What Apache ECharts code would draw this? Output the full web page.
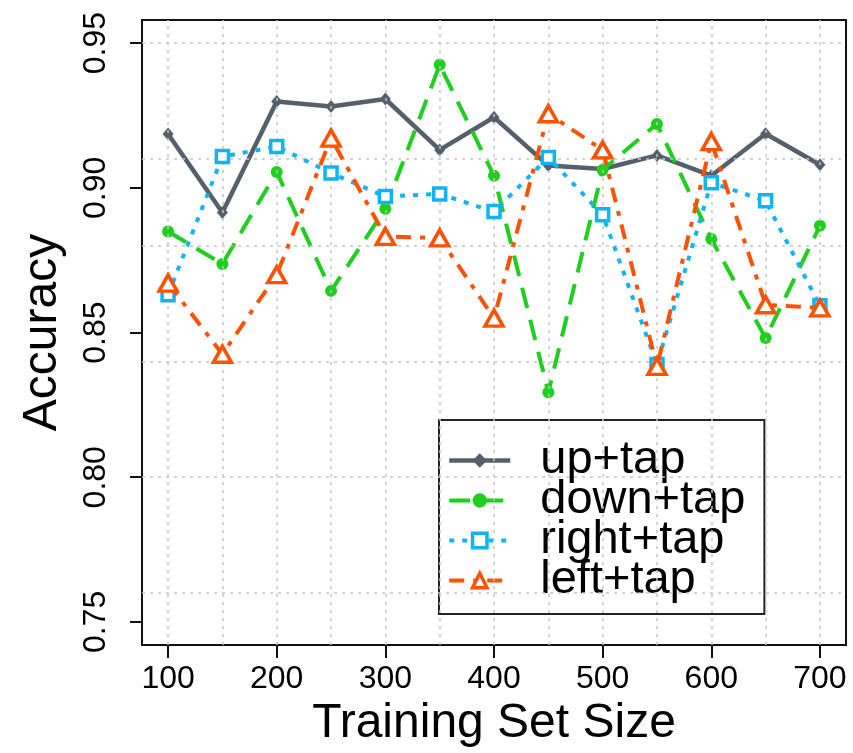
<!DOCTYPE html>
<html>
<head>
<meta charset="utf-8">
<script src="https://cdn.jsdelivr.net/npm/echarts@6/dist/echarts.min.js"></script>
<style>
html,body{margin:0;padding:0;background:#fff;}
#chart{width:853px;height:753px;}
</style>
</head>
<body>
<div id="chart"></div>
<script>
const sizes = [100, 150, 200, 250, 300, 350, 400, 450, 500, 550, 600, 650, 700];
const upTap    = [0.9186, 0.8915, 0.9298, 0.9281, 0.9307, 0.9131, 0.9244, 0.9077, 0.9065, 0.9112, 0.9042, 0.9187, 0.9080];
const downTap  = [0.8849, 0.8737, 0.9055, 0.8644, 0.8928, 0.9425, 0.9042, 0.8294, 0.9062, 0.9221, 0.8823, 0.8481, 0.8869];
const rightTap = [0.8631, 0.9108, 0.9143, 0.9051, 0.8970, 0.8979, 0.8918, 0.9105, 0.8907, 0.8390, 0.9018, 0.8955, 0.8593];
const leftTap  = [0.8671, 0.8425, 0.8700, 0.9172, 0.8832, 0.8827, 0.8550, 0.9256, 0.9131, 0.8383, 0.9160, 0.8596, 0.8585];
const xTicks = [100, 200, 300, 400, 500, 600, 700];
const yTicks = [0.75, 0.80, 0.85, 0.90, 0.95];
const xGrid = [100, 150, 200, 250, 300, 350, 400, 450, 500, 550, 600, 650, 700];
const yGrid = [0.7625, 0.8, 0.8375, 0.875, 0.9125, 0.95];
const seriesNames = ['up+tap', 'down+tap', 'right+tap', 'left+tap'];

const FONT = "'Liberation Sans', Arial, Helvetica, sans-serif";
const pair = arr => sizes.map((s, i) => [s, arr[i]]);

const chart = echarts.init(document.getElementById('chart'), null, {renderer: 'canvas'});

const gridLineStyle = {color: '#c4c4c4', width: 1.5, type: [3, 5]};
const markLineData = xGrid.map(v => ({xAxis: v})).concat(yGrid.map(v => ({yAxis: v})));

const option = {
  backgroundColor: '#ffffff',
  animation: false,
  grid: {left: 142, top: 20, width: 704, height: 626, show: true, borderColor: '#111', borderWidth: 2, backgroundColor: 'transparent'},
  xAxis: {
    type: 'value', min: 76, max: 724,
    name: 'Training Set Size', nameLocation: 'middle', nameGap: 52,
    nameTextStyle: {fontFamily: FONT, fontSize: 48, color: '#000'},
    axisLine: {show: true, lineStyle: {color: '#111', width: 2}},
    axisTick: {show: true, length: 13, lineStyle: {color: '#111', width: 2}, customValues: xTicks},
    axisLabel: {show: true, customValues: xTicks, fontFamily: FONT, fontSize: 32, color: '#000', margin: 18},
    splitLine: {show: false}
  },
  yAxis: {
    type: 'value', min: 0.742, max: 0.958,
    name: 'Accuracy', nameLocation: 'middle', nameGap: 75, nameRotate: 90,
    nameTextStyle: {fontFamily: FONT, fontSize: 48, color: '#000'},
    axisLine: {show: true, lineStyle: {color: '#111', width: 2}},
    axisTick: {show: true, length: 12, lineStyle: {color: '#111', width: 2}, customValues: yTicks},
    axisLabel: {show: true, customValues: yTicks, rotate: 90, fontFamily: FONT, fontSize: 32, color: '#000', margin: 30,
      formatter: v => v.toFixed(2)},
    splitLine: {show: false}
  },
  legend: {
    data: seriesNames,
    orient: 'vertical', left: 439, top: 420,
    borderColor: '#222', borderWidth: 2, backgroundColor: 'transparent',
    padding: [17, 19, 10, 8],
    itemWidth: 61, itemHeight: 18, itemGap: -7,
    lineStyle: {width: 'inherit'},
    itemStyle: {borderWidth: 'inherit'},
    textStyle: {fontFamily: FONT, fontSize: 47, lineHeight: 39, color: '#000', padding: [0, 0, 0, 25]}
  },
  series: [
    {
      name: 'grid', type: 'line', data: [], silent: true, z: 0,
      markLine: {silent: true, symbol: 'none', label: {show: false}, lineStyle: gridLineStyle, data: markLineData, animation: false}
    },
    {
      name: 'up+tap', type: 'line', data: pair(upTap), z: 3,
      symbol: 'diamond', symbolSize: [11, 13],
      lineStyle: {color: '#56606b', width: 4.5, type: 'solid'},
      itemStyle: {color: '#56606b'}
    },
    {
      name: 'down+tap', type: 'line', data: pair(downTap), z: 4,
      symbol: 'circle', symbolSize: 12,
      lineStyle: {color: '#1ecf1e', width: 4, type: [21, 12]},
      itemStyle: {color: '#1ecf1e'}
    },
    {
      name: 'right+tap', type: 'line', data: pair(rightTap), z: 5,
      symbol: 'rect', symbolSize: 12,
      lineStyle: {color: '#10b4f5', width: 4, type: [5, 8]},
      itemStyle: {color: '#ffffff', borderColor: '#10b4f5', borderWidth: 3.5}
    },
    {
      name: 'left+tap', type: 'line', data: pair(leftTap), z: 6,
      symbol: 'triangle', symbolSize: [18, 16],
      lineStyle: {color: '#ff5200', width: 4, type: [15, 9, 5, 9]},
      itemStyle: {color: '#ffffff', borderColor: '#ff5200', borderWidth: 3.5}
    }
  ]
};
chart.setOption(option);
</script>
</body>
</html>
